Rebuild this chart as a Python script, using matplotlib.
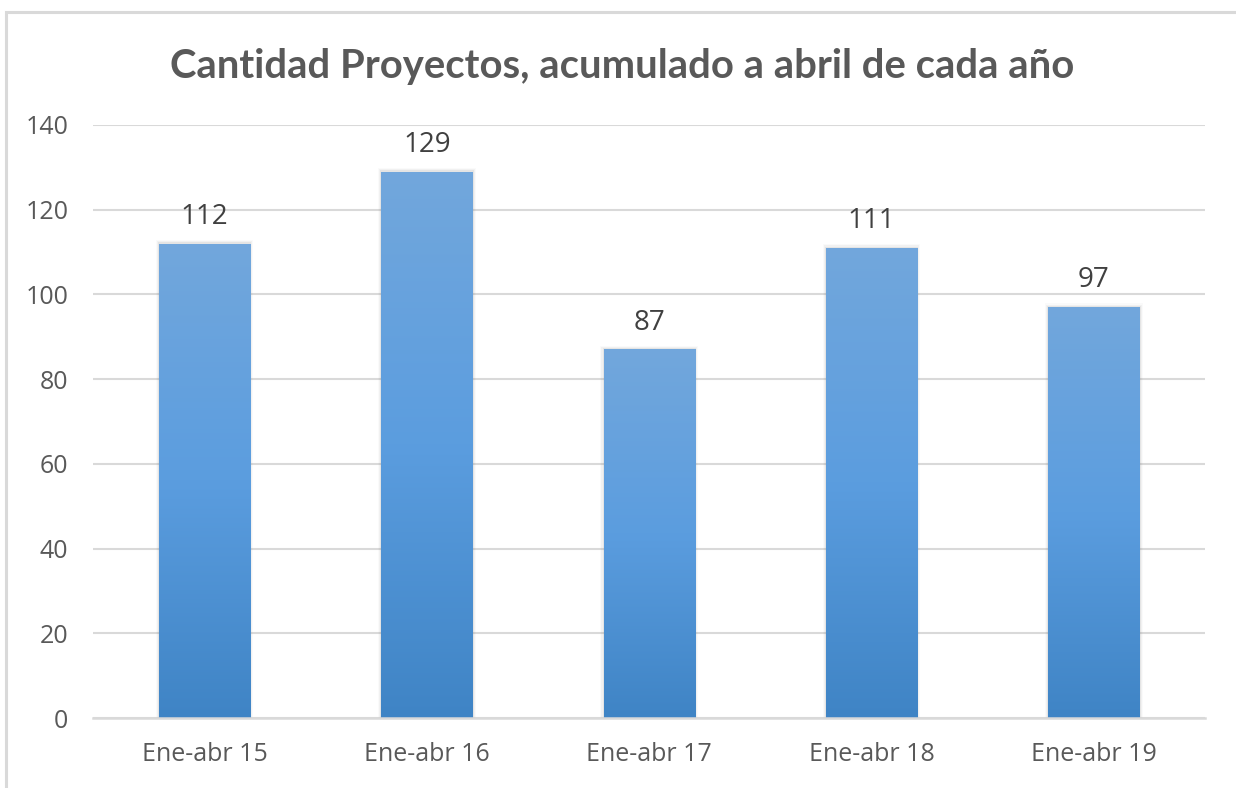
import matplotlib
matplotlib.use("Agg")
import matplotlib.pyplot as plt
import numpy as np
from matplotlib.patches import Rectangle
from matplotlib.colors import LinearSegmentedColormap

# Data
categories = ["Ene-abr 15", "Ene-abr 16", "Ene-abr 17", "Ene-abr 18", "Ene-abr 19"]
proyectos = [112, 129, 87, 111, 97]
y_ticks = [0, 20, 40, 60, 80, 100, 120, 140]
title = "Cantidad Proyectos, acumulado a abril de cada año"

plt.rcParams["font.family"] = ["Open Sans", "DejaVu Sans"]
text_color = "#595959"
grid_color = "#d9d9d9"

fig = plt.figure(figsize=(12.36, 7.88), dpi=100)
ax = fig.add_axes([0.0755, 0.0888, 0.8995, 0.7526])

# outer chart frame
fig.patches.append(Rectangle((5.5 / 1236, -0.05), 1.1, 1.05 - 12.5 / 788,
                             transform=fig.transFigure, fill=False,
                             edgecolor=grid_color, linewidth=2.2, zorder=0))

x = np.arange(len(categories))
width = 0.41
bars = ax.bar(x, proyectos, width=width, color="none", edgecolor="none", zorder=3)

# vertical gradient fill, lighter at top
cmap = LinearSegmentedColormap.from_list("grad", ["#3f84c5", "#5b9ddf", "#72a7dc"])
grad = np.linspace(0, 1, 256).reshape(-1, 1)
for b in bars:
    x0, w, h = b.get_x(), b.get_width(), b.get_height()
    # soft grey shadow around the bar
    for i, a in enumerate([0.10, 0.06, 0.03]):
        d = 0.005 * (i + 1)
        ax.add_patch(Rectangle((x0 - d, 0), w + 2 * d, h + 0.3 * (i + 1),
                               facecolor="#707070", alpha=a, edgecolor="none", zorder=2))
    im = ax.imshow(grad, extent=[x0, x0 + w, 0, h], origin="lower", cmap=cmap,
                   aspect="auto", zorder=3)
    im.set_clip_path(b)
    ax.text(x0 + w / 2, h + 4.7, str(h), ha="center", va="baseline",
            fontsize=20, color="#404040")

ax.set_xlim(-0.5, len(categories) - 0.5)
ax.set_ylim(0, 140)
ax.set_yticks(y_ticks)
ax.set_xticks(x)
ax.set_xticklabels(categories)
ax.tick_params(axis="both", length=0, labelsize=18, colors=text_color)
ax.tick_params(axis="y", pad=18)
ax.tick_params(axis="x", pad=17)
ax.yaxis.grid(True, color=grid_color, linewidth=1.5, zorder=0)
ax.set_axisbelow(True)
for s in ["top", "right", "left"]:
    ax.spines[s].set_visible(False)
ax.spines["bottom"].set_color(grid_color)
ax.spines["bottom"].set_linewidth(1.8)
ax.spines["bottom"].set_zorder(4)

fig.text(0.503, 0.916, title, ha="center", va="center", fontsize=28.8,
         fontweight="bold", color=text_color, family=["Lato", "DejaVu Sans"])

fig.savefig("out.png", dpi=100)
